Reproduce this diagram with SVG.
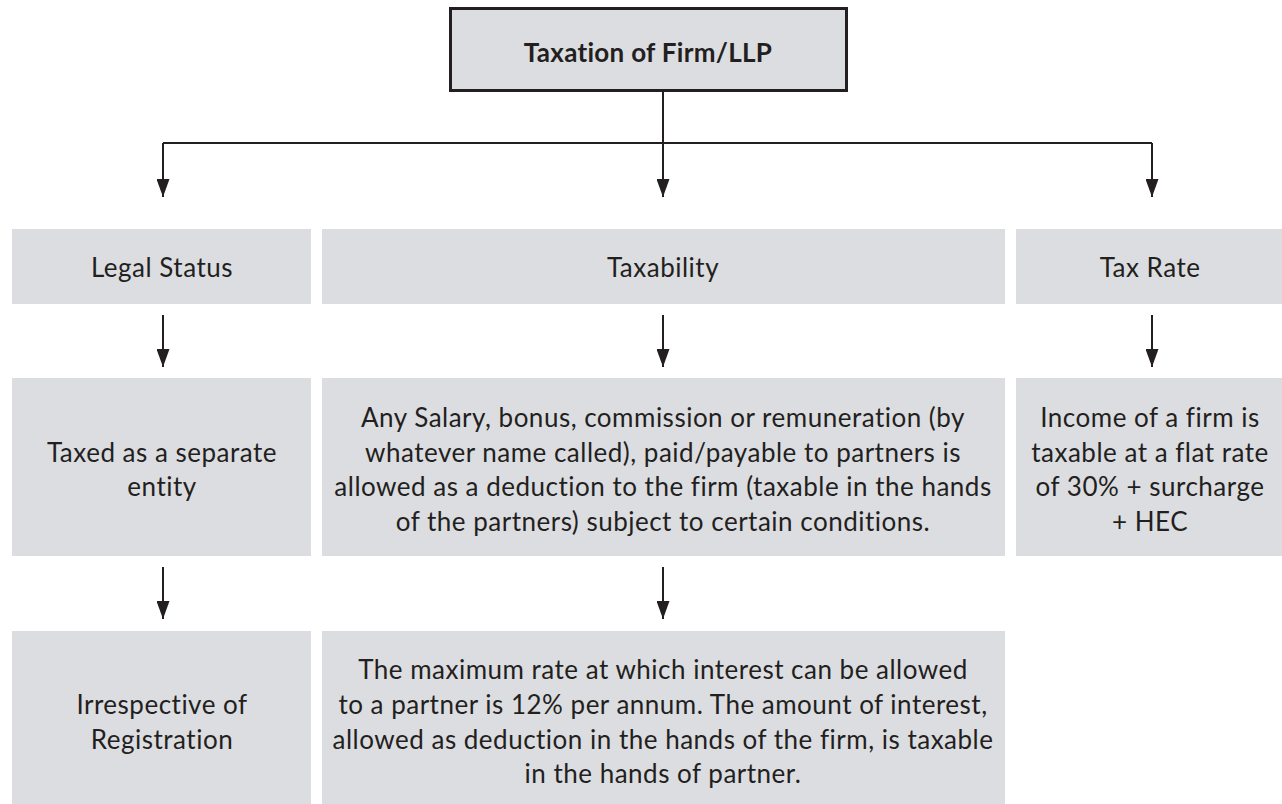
<svg xmlns="http://www.w3.org/2000/svg" width="1282" height="804" viewBox="0 0 1282 804">
<defs>
<style>
.box{fill:#dcdde0;}
.top{fill:#dcdde0;stroke:#231f20;stroke-width:3;}
.t{font-family:Lato,"Open Sans","Liberation Sans",sans-serif;font-size:26px;letter-spacing:0.5px;fill:#231f20;text-anchor:middle;}
.b{font-weight:bold;letter-spacing:0.3px;}
.ln{stroke:#231f20;stroke-width:2;fill:none;}
</style>
<marker id="ah" markerWidth="18" markerHeight="13" refX="18" refY="6.5" orient="auto" markerUnits="userSpaceOnUse" viewBox="0 0 18 13">
<path d="M0,0 L18,6.5 L0,13 Z" fill="#231f20"/>
</marker>
</defs>
<rect width="1282" height="804" fill="#ffffff"/>
<g id="node-root">
<rect class="top" x="450.5" y="8.5" width="396" height="82"/>
<text class="t b" x="648" y="62">Taxation of Firm/LLP</text>
</g>
<g id="node-legal-status">
<rect class="box" x="12" y="229" width="299" height="75"/>
<text class="t" x="162" y="277">Legal Status</text>
</g>
<g id="node-taxability">
<rect class="box" x="322" y="229" width="683" height="75"/>
<text class="t" x="663" y="277">Taxability</text>
</g>
<g id="node-tax-rate">
<rect class="box" x="1016" y="229" width="266" height="75"/>
<text class="t" x="1150" y="277">Tax Rate</text>
</g>
<g id="node-separate-entity">
<rect class="box" x="12" y="378" width="299" height="178"/>
<text class="t" x="162" y="462">Taxed as a separate</text>
<text class="t" x="162" y="496">entity</text>
</g>
<g id="node-salary">
<rect class="box" x="322" y="378" width="683" height="178"/>
<text class="t" x="663" y="427">Any Salary, bonus, commission or remuneration (by</text>
<text class="t" x="663" y="462">whatever name called), paid/payable to partners is</text>
<text class="t" x="663" y="496">allowed as a deduction to the firm (taxable in the hands</text>
<text class="t" x="663" y="531">of the partners) subject to certain conditions.</text>
</g>
<g id="node-flat-rate">
<rect class="box" x="1016" y="378" width="266" height="178"/>
<text class="t" x="1150" y="427">Income of a firm is</text>
<text class="t" x="1150" y="462">taxable at a flat rate</text>
<text class="t" x="1150" y="496">of 30% + surcharge</text>
<text class="t" x="1150" y="531">+ HEC</text>
</g>
<g id="node-registration">
<rect class="box" x="12" y="631" width="299" height="173"/>
<text class="t" x="162" y="714">Irrespective of</text>
<text class="t" x="162" y="749">Registration</text>
</g>
<g id="node-interest">
<rect class="box" x="322" y="631" width="683" height="173"/>
<text class="t" x="663" y="679">The maximum rate at which interest can be allowed</text>
<text class="t" x="663" y="714">to a partner is 12% per annum. The amount of interest,</text>
<text class="t" x="663" y="749">allowed as deduction in the hands of the firm, is taxable</text>
<text class="t" x="663" y="783">in the hands of partner.</text>
</g>
<g id="connectors">
<path class="ln" d="M663,92 V143 M163,143 H1152"/>
<path class="ln" d="M163,143 V197" marker-end="url(#ah)"/>
<path class="ln" d="M663,143 V197" marker-end="url(#ah)"/>
<path class="ln" d="M1152,143 V197" marker-end="url(#ah)"/>
<path class="ln" d="M163,315 V367" marker-end="url(#ah)"/>
<path class="ln" d="M663,315 V367" marker-end="url(#ah)"/>
<path class="ln" d="M1152,315 V367" marker-end="url(#ah)"/>
<path class="ln" d="M163,567 V619" marker-end="url(#ah)"/>
<path class="ln" d="M663,567 V619" marker-end="url(#ah)"/>
</g>
</svg>
